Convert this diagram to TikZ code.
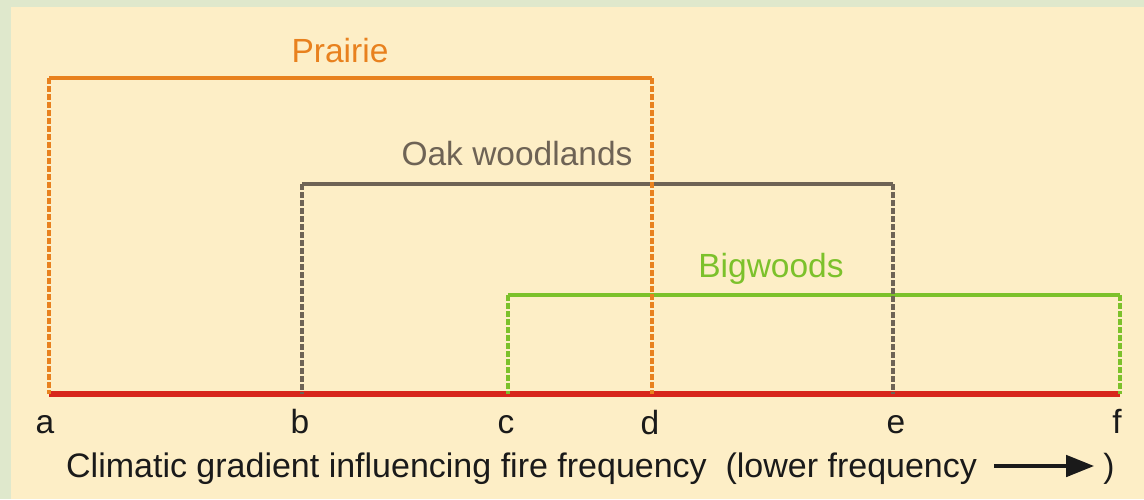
\documentclass[tikz,border=0pt]{standalone}
\usepackage{fontspec}
\setmainfont{Liberation Sans}
\usetikzlibrary{arrows.meta}
\definecolor{outerbg}{HTML}{DFE8CC}
\definecolor{innerbg}{HTML}{FDEEC6}
\definecolor{prairiec}{HTML}{E8811E}
\definecolor{oakc}{HTML}{6E6355}
\definecolor{bigc}{HTML}{7CC12B}
\definecolor{axisc}{HTML}{D7261C}
\definecolor{textc}{HTML}{1A1A1A}
\tikzset{
  lbl/.style={font=\fontsize{33.5}{40}\selectfont, inner sep=0pt, anchor=base, text=textc},
  topline/.style={line width=4.5pt, line join=miter},
  sideline/.style={line width=4.5pt, dash pattern=on 5.5pt off 2.5pt},
  axisline/.style={line width=6pt, draw=axisc},
}
\begin{document}
\begin{tikzpicture}[x=1pt,y=-1pt]
\fill[outerbg] (0,0) rectangle (1144,499);
\fill[innerbg] (11,7) rectangle (1144,499);
\useasboundingbox (0,0) rectangle (1144,499);
% base coordinates
\coordinate (a0) at (49,394);
\coordinate (b0) at (302,394);
\coordinate (c0) at (508,394);
\coordinate (d0) at (652,394);
\coordinate (e0) at (893,394);
\coordinate (f0) at (1120,394);
\coordinate (aT) at (49,78);
\coordinate (dT) at (652,78);
\coordinate (bT) at (302,184);
\coordinate (eT) at (893,184);
\coordinate (cT) at (508,295);
\coordinate (fT) at (1120,295);
% axis
\draw[axisline] (a0) -- (f0);
% Bigwoods
\draw[topline, bigc] (cT) -- (fT);
\draw[sideline, bigc] (cT) -- (c0);
\draw[sideline, bigc] (fT) -- (f0);
% Oak woodlands
\draw[topline, oakc] (bT) -- (eT);
\draw[sideline, oakc] (bT) -- (b0);
\draw[sideline, oakc] (eT) -- (e0);
% Prairie
\draw[topline, prairiec] (aT) -- (dT);
\draw[sideline, prairiec] (aT) -- (a0);
\draw[sideline, prairiec] (dT) -- (d0);
% range labels
\node[lbl, text=prairiec] (lp) at (340,62) {Prairie};
\node[lbl, text=oakc] (lo) at (517,165) {Oak woodlands};
\node[lbl, text=bigc] (lb) at (771,277) {Bigwoods};
% axis letters
\node[lbl] (la) at (45,433) {a};
\node[lbl] (lbb) at (300,433) {b};
\node[lbl] (lc) at (506,433) {c};
\node[lbl] (ld) at (650,434) {d};
\node[lbl] (le) at (896,433) {e};
\node[lbl] (lf) at (1117,433) {f};
% caption
\node[lbl, anchor=base west, font=\fontsize{34}{40}\selectfont] (cap) at (66,477) {Climatic gradient influencing fire frequency\ \ (lower frequency};
\node[lbl, anchor=base] (rp) at (1109,477) {)};
\coordinate (arS) at ([xshift=17pt,yshift=11pt]cap.base east);
\coordinate (arE) at ([xshift=-9pt,yshift=11pt]rp.base west);
\draw[line width=4.5pt, textc, -{Triangle[length=28pt,width=21pt]}] (arS) -- (arE);
\end{tikzpicture}
\end{document}
